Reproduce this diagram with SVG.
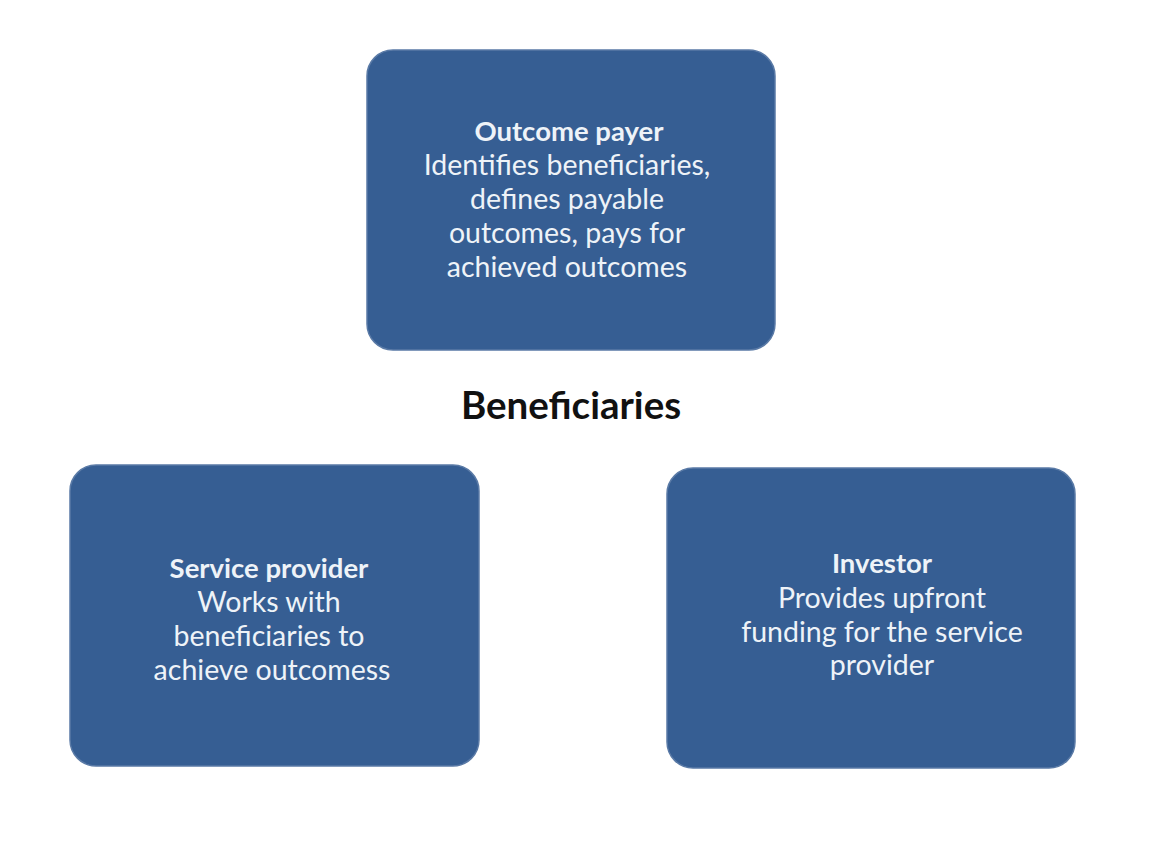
<svg xmlns="http://www.w3.org/2000/svg" width="1158" height="852" viewBox="0 0 1158 852">
<style>
.box{fill:#365e93;stroke:#5a7aa6;stroke-width:1.5}
.t{font-family:Lato,"Open Sans",sans-serif;font-size:28.5px;fill:#eef3f8;text-anchor:middle}
.h{font-weight:bold;font-size:27.5px}
.c{font-family:Lato,"Open Sans",sans-serif;font-size:38.5px;font-weight:bold;fill:#111;text-anchor:middle}
</style>
<rect width="1158" height="852" fill="#ffffff"/>
<g id="outcome-payer">
<rect class="box" x="367" y="50" width="408" height="300" rx="26"/>
<text class="t h" x="569" y="141">Outcome payer</text>
<text class="t" x="567" y="175">Identifies beneficiaries,</text>
<text class="t" x="567" y="209">defines payable</text>
<text class="t" x="567" y="243">outcomes, pays for</text>
<text class="t" x="567" y="277">achieved outcomes</text>
</g>
<g id="beneficiaries">
<text class="c" x="571" y="419">Beneficiaries</text>
</g>
<g id="service-provider">
<rect class="box" x="70" y="465" width="409" height="301" rx="26"/>
<text class="t h" x="269" y="578">Service provider</text>
<text class="t" x="269" y="612">Works with</text>
<text class="t" x="269" y="646">beneficiaries to</text>
<text class="t" x="272" y="680">achieve outcomess</text>
</g>
<g id="investor">
<rect class="box" x="667" y="468" width="408" height="300" rx="26"/>
<text class="t h" x="882" y="573">Investor</text>
<text class="t" x="882" y="608">Provides upfront</text>
<text class="t" x="882" y="642">funding for the service</text>
<text class="t" x="882" y="675">provider</text>
</g>
<g id="connectors"></g>
</svg>
